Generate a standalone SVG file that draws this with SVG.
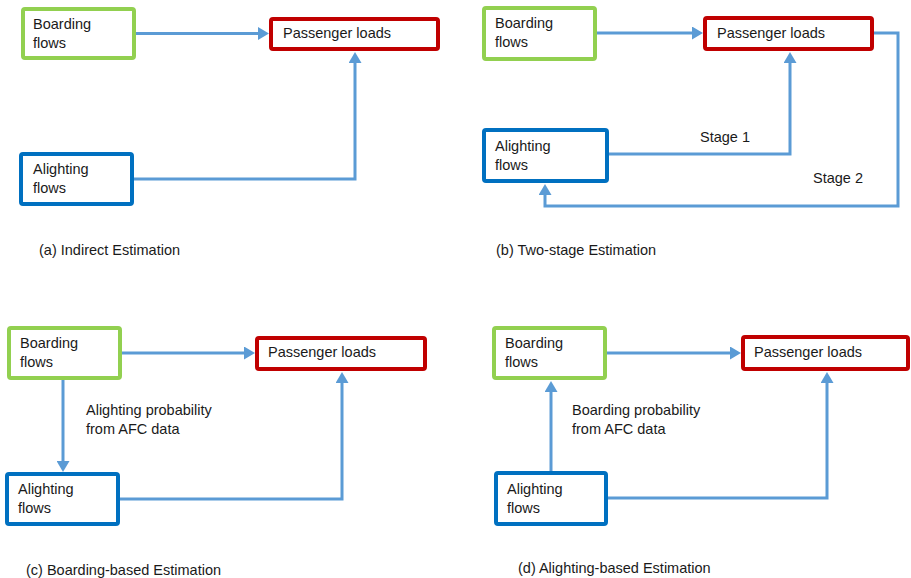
<svg xmlns="http://www.w3.org/2000/svg" width="911" height="578" viewBox="0 0 911 578">
<style>
  .bg{fill:#ffffff}
  .box{fill:#ffffff;stroke-width:4}
  .g{stroke:#92D050}
  .r{stroke:#C00000}
  .b{stroke:#0070C0}
  .t{font-family:"Liberation Sans",Arial,sans-serif;font-size:14.5px;fill:#1a1a1a}
  .c{fill:none;stroke:#5B9BD5;stroke-width:3;marker-end:url(#ah)}
</style>
<defs>
  <marker id="ah" markerUnits="userSpaceOnUse" markerWidth="13" markerHeight="13" refX="2" refY="6.5" orient="auto">
    <path d="M0,0 L11,6.5 L0,13 z" fill="#5B9BD5"/>
  </marker>
</defs>
<rect class="bg" x="0" y="0" width="911" height="578"/>

<!-- Panel (a) -->
<g id="a-boarding"><rect class="box g" x="23" y="9" width="111" height="49" rx="2"/><text class="t" x="33" y="29">Boarding</text><text class="t" x="33" y="48">flows</text></g>
<g id="a-loads"><rect class="box r" x="271" y="19" width="167" height="30" rx="2"/><text class="t" x="283" y="38">Passenger loads</text></g>
<g id="a-alighting"><rect class="box b" x="21" y="154" width="111" height="50" rx="2"/><text class="t" x="33" y="174">Alighting</text><text class="t" x="33" y="193">flows</text></g>
<text class="t" x="39" y="255">(a) Indirect Estimation</text>

<!-- Panel (b) -->
<g id="b-boarding"><rect class="box g" x="484" y="8" width="111" height="51" rx="2"/><text class="t" x="495" y="28">Boarding</text><text class="t" x="495" y="47">flows</text></g>
<g id="b-loads"><rect class="box r" x="705" y="18" width="167" height="31" rx="2"/><text class="t" x="717" y="38">Passenger loads</text></g>
<g id="b-alighting"><rect class="box b" x="484" y="130" width="123" height="51" rx="2"/><text class="t" x="495" y="151">Alighting</text><text class="t" x="495" y="170">flows</text></g>
<text class="t" x="700" y="142">Stage 1</text>
<text class="t" x="813" y="183">Stage 2</text>
<text class="t" x="496" y="255">(b) Two-stage Estimation</text>

<!-- Panel (c) -->
<g id="c-boarding"><rect class="box g" x="9" y="328" width="111" height="50" rx="2"/><text class="t" x="20" y="348">Boarding</text><text class="t" x="20" y="367">flows</text></g>
<g id="c-loads"><rect class="box r" x="257" y="338" width="168" height="31" rx="2"/><text class="t" x="268" y="357">Passenger loads</text></g>
<g id="c-alighting"><rect class="box b" x="7" y="474" width="111" height="50" rx="2"/><text class="t" x="18" y="494">Alighting</text><text class="t" x="18" y="513">flows</text></g>
<text class="t" x="86" y="415">Alighting probability</text>
<text class="t" x="86" y="434">from AFC data</text>
<text class="t" x="26" y="575">(c) Boarding-based Estimation</text>

<!-- Panel (d) -->
<g id="d-boarding"><rect class="box g" x="494" y="328" width="111" height="50" rx="2"/><text class="t" x="505" y="348">Boarding</text><text class="t" x="505" y="367">flows</text></g>
<g id="d-loads"><rect class="box r" x="743" y="337" width="165" height="32" rx="2"/><text class="t" x="754" y="357">Passenger loads</text></g>
<g id="d-alighting"><rect class="box b" x="496" y="473" width="110" height="51" rx="2"/><text class="t" x="507" y="494">Alighting</text><text class="t" x="507" y="513">flows</text></g>
<text class="t" x="572" y="415">Boarding probability</text>
<text class="t" x="572" y="434">from AFC data</text>
<text class="t" x="518" y="573">(d) Alighting-based Estimation</text>

<g id="connectors">
  <!-- a -->
  <path class="c" d="M136,33.5 H260"/>
  <path class="c" d="M134,179 H355 V61"/>
  <!-- b -->
  <path class="c" d="M597,33 H694"/>
  <path class="c" d="M609,154 H790 V61"/>
  <path class="c" d="M874,33 H898 V206 H545 V193"/>
  <!-- c -->
  <path class="c" d="M122,353 H246"/>
  <path class="c" d="M63,380 V463"/>
  <path class="c" d="M120,499 H342 V381"/>
  <!-- d -->
  <path class="c" d="M607,353 H732"/>
  <path class="c" d="M551,471 V390"/>
  <path class="c" d="M608,498 H827 V381"/>
</g>
</svg>
